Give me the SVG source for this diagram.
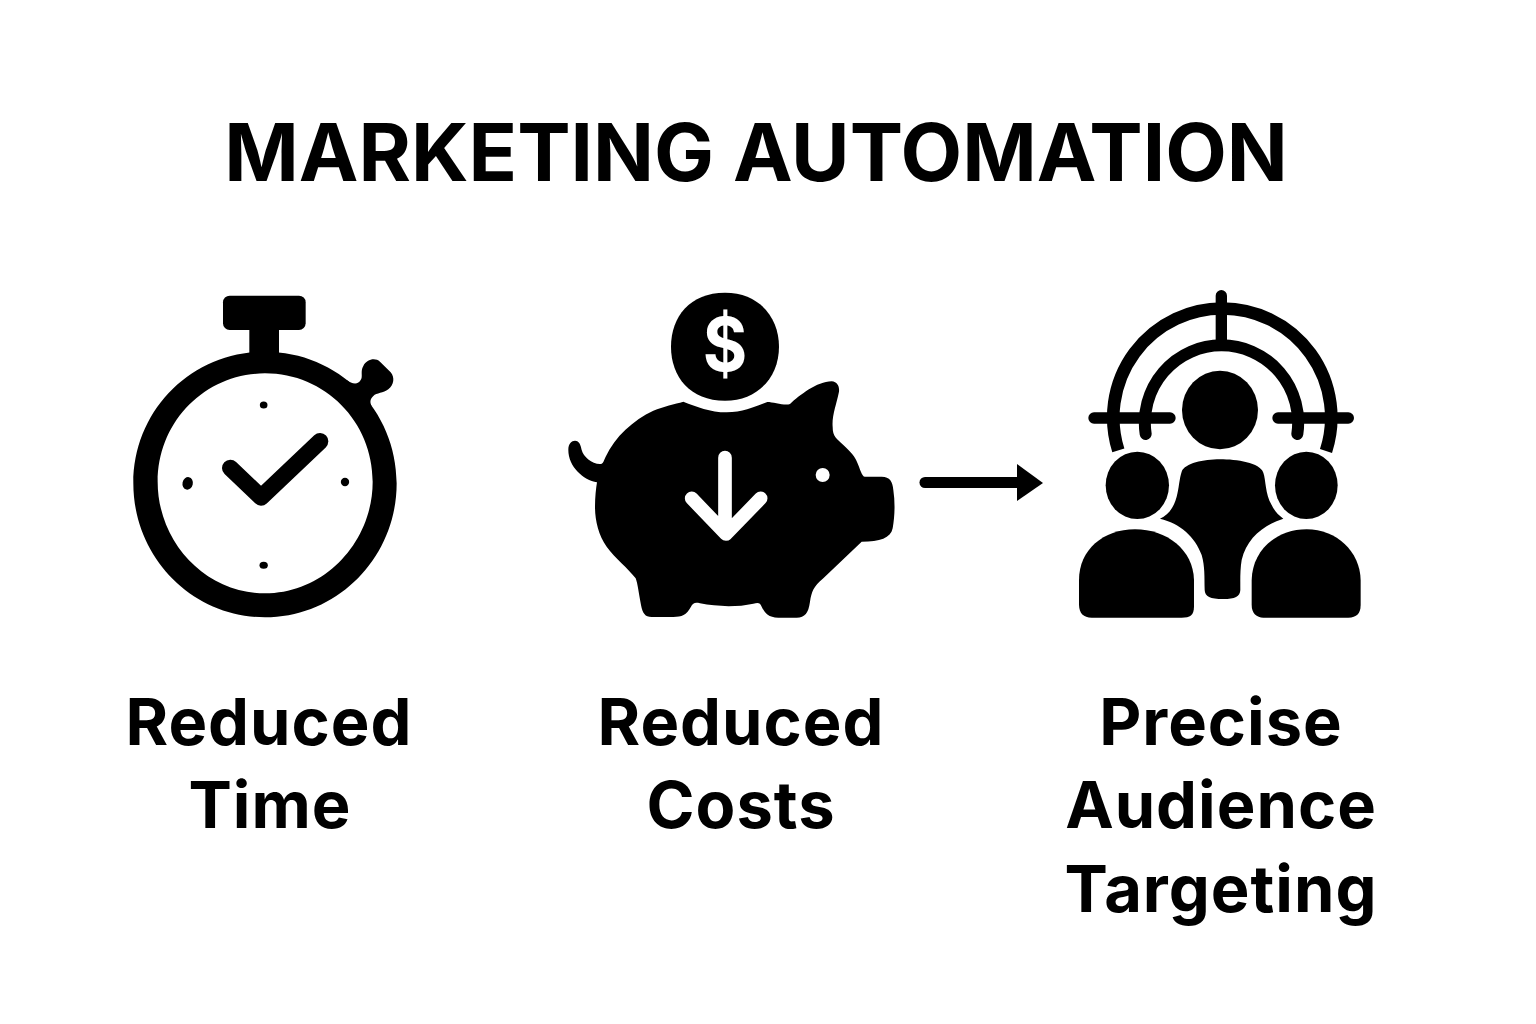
<svg xmlns="http://www.w3.org/2000/svg" width="1536" height="1024" viewBox="0 0 1536 1024">
<style>
text{font-family:"Inter","Roboto","Liberation Sans",sans-serif;font-weight:700;fill:#000;text-anchor:middle}
.title{font-size:80px}
.label{font-size:65px;letter-spacing:1px}
.k{fill:#000}
.w{fill:#fff}
.ks{fill:none;stroke:#000;stroke-linecap:round;stroke-linejoin:round}
.ws{fill:none;stroke:#fff;stroke-linecap:round;stroke-linejoin:round}
</style>
<defs>
<marker id="head" markerUnits="userSpaceOnUse" viewBox="0 0 26 37" refX="0" refY="18.5" markerWidth="26" markerHeight="37" orient="auto"><path d="M0 0L26 19L0 37Z" fill="#000"/></marker>
</defs>
<rect width="1536" height="1024" fill="#fff"/>
<g id="title"><text class="title" x="756" y="181">MARKETING AUTOMATION</text></g>
<g id="node-time">
<g transform="translate(120 280) scale(.33333)">
<rect class="k" x="309" y="47" width="248" height="103" rx="20"/>
<rect class="k" x="388" y="140" width="89" height="90"/>
<path class="k" d="M680 300C695 312 715 315 722 300C730 290 720 275 730 258C740 238 765 232 780 245L812 277C825 292 822 315 805 328C790 340 770 338 760 348C752 355 748 365 755 378L700 340Z"/>
<path class="k" fill-rule="evenodd" d="M435 215C655 215 830 390 830 610C830 830 655 1012 435 1012C215 1012 40 830 40 610C40 390 215 215 435 215ZM435 280C255 280 113 425 113 605C113 785 255 940 435 940C615 940 758 785 758 605C758 425 615 280 435 280Z"/>
<ellipse class="k" cx="431" cy="375" rx="11.500" ry="10.500"/>
<ellipse class="k" cx="203" cy="610" rx="15.500" ry="19" transform="rotate(12 203 610)"/>
<circle class="k" cx="675" cy="606" r="12.500"/>
<ellipse class="k" cx="431" cy="856" rx="12.500" ry="10.500"/>
<path class="ks" stroke-width="50" d="M331 564L423 652L600 484"/>
</g>
</g>
<g id="node-costs">
<g transform="translate(540 280) scale(.33333)">
<path class="k" d="M555 38C660 38 717 115 717 200C717 290 655 362 555 362C450 362 393 290 393 200C393 110 450 38 555 38Z"/>
<text transform="translate(555 274) scale(.92 1)" x="0" y="0" style="fill:#fff;font-size:222px">$</text>
<path class="k" d="M430 365C470 380 510 397 560 397C610 397 650 378 682 366C700 366 735 378 750 372C780 345 830 305 875 304C895 305 900 325 896 340C890 370 875 410 878 440C878 470 890 475 910 495C935 518 945 530 952 548C960 565 965 590 975 590L1025 590C1050 590 1058 605 1060 630C1066 670 1064 710 1058 745C1052 775 1020 785 965 785L850 895C820 920 815 935 810 965C805 1000 795 1012 770 1013L715 1013C685 1013 675 1000 665 980C660 968 655 967 640 971C590 982 530 980 480 970C465 967 460 968 452 982C440 1005 425 1011 400 1011L335 1011C315 1011 308 1000 303 975C297 945 293 910 287 895C265 865 225 835 200 800C175 765 165 720 165 680C165 650 168 625 171 607C130 600 85 560 85 510C85 490 95 482 105 482C118 482 122 495 125 510C130 530 155 552 180 552C190 552 192 540 197 530C225 470 280 420 340 392C370 380 405 372 430 365Z"/>
<circle class="w" cx="848" cy="585" r="21"/>
<path class="ws" stroke-width="41" d="M555 533L555 750M455 655L558 762L662 655"/>
</g>
</g>
<g id="node-audience">
<g transform="translate(1060 280) scale(.33333)">
<path class="ks" stroke-width="38" style="stroke-linecap:butt" d="M175 511A327 327 0 1 1 798 513"/>
<path class="ks" stroke-width="36" d="M257 462A230 232 0 1 1 712 462"/>
<path class="ks" stroke-width="34" d="M484 47L484 190M102 414L330 414M654 414L865 414"/>
<ellipse class="k" cx="480" cy="390" rx="114" ry="118"/>
<ellipse class="k" cx="232" cy="616" rx="95" ry="101"/>
<ellipse class="k" cx="739" cy="616" rx="94" ry="101"/>
<path class="k" d="M365 575C375 550 430 538 480 538C530 538 600 548 610 578C618 600 615 640 635 675C645 695 655 705 670 716C610 735 560 775 545 840C540 870 541 900 541 930C540 950 525 957 490 957C450 957 435 950 434 930C433 890 435 860 425 825C405 770 360 730 300 716C325 705 340 685 350 650C357 625 358 595 365 575Z"/>
<path class="k" d="M57 900C57 810 130 748 225 748C320 748 400 810 402 900L402 980C402 1005 390 1013 365 1013L95 1013C70 1013 58 1000 57 975Z"/>
<path class="k" d="M575 900C577 810 650 748 740 748C830 748 900 815 902 900L902 975C902 1000 890 1013 865 1013L610 1013C590 1013 575 1000 575 975Z"/>
</g>
</g>
<g id="labels">
<text class="label" x="269" y="745">Reduced</text>
<text class="label" x="270" y="828">Time</text>
<text class="label" x="741" y="745">Reduced</text>
<text class="label" x="741" y="828">Costs</text>
<text class="label" x="1221" y="745">Precise</text>
<text class="label" x="1221" y="828">Audience</text>
<text class="label" x="1221" y="912">Targeting</text>
</g>
<g id="connectors">
<path class="ks" stroke-width="11" marker-end="url(#head)" d="M925 482.500L1017 482.500"/>
</g>
</svg>
